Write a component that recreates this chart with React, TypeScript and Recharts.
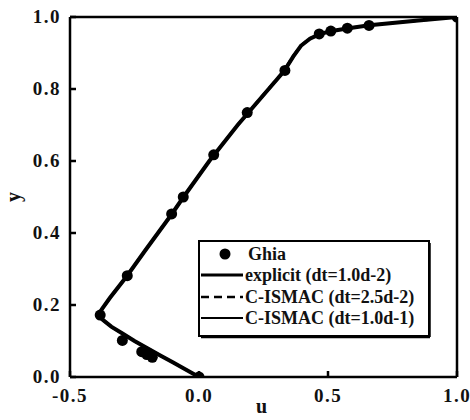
import { ScatterChart, Scatter, XAxis, YAxis, Legend, Label } from "recharts";

// Ghia et al. reference points (u along vertical centreline)
const ghiaY = [1.0, 0.9766, 0.9688, 0.9609, 0.9531, 0.8516, 0.7344, 0.6172, 0.5, 0.4531, 0.2813, 0.1719, 0.1016, 0.0703, 0.0625, 0.0547, 0.0];
const ghiaU = [1.0, 0.659, 0.575, 0.511, 0.466, 0.333, 0.187, 0.057, -0.061, -0.106, -0.278, -0.383, -0.297, -0.222, -0.202, -0.181, 0.0];

// computed profiles
const profileY = [0, 0.02, 0.04, 0.06, 0.08, 0.1, 0.12, 0.14, 0.16, 0.175, 0.19, 0.22, 0.28, 0.35, 0.45, 0.5, 0.6, 0.7, 0.8, 0.85, 0.89, 0.92, 0.94, 0.953, 0.961, 0.969, 0.977, 0.99, 1.0];
const explicitU = [0, -0.05, -0.1, -0.15, -0.2, -0.25, -0.295, -0.34, -0.375, -0.388, -0.375, -0.345, -0.28, -0.21, -0.108, -0.06, 0.04, 0.15, 0.27, 0.33, 0.365, 0.395, 0.43, 0.47, 0.515, 0.58, 0.66, 0.85, 1.0];
const ismac25U = [0, -0.05, -0.1, -0.152, -0.202, -0.252, -0.297, -0.342, -0.377, -0.389, -0.376, -0.346, -0.281, -0.211, -0.109, -0.061, 0.039, 0.149, 0.268, 0.328, 0.363, 0.393, 0.428, 0.468, 0.513, 0.578, 0.658, 0.85, 1.0];
const ismac10U = [0, -0.049, -0.098, -0.148, -0.198, -0.248, -0.293, -0.338, -0.373, -0.386, -0.373, -0.343, -0.278, -0.208, -0.106, -0.058, 0.042, 0.152, 0.272, 0.332, 0.367, 0.397, 0.432, 0.472, 0.517, 0.582, 0.662, 0.85, 1.0];

const xTicks = [-0.5, 0, 0.5, 1.0];
const yTicks = [0, 0.2, 0.4, 0.6, 0.8, 1.0];

const legendLabels = ["Ghia", "explicit (dt=1.0d-2)", "C-ISMAC (dt=2.5d-2)", "C-ISMAC (dt=1.0d-1)"];

const serif = "Liberation Serif";
const ink = "#000";

const ghiaData = ghiaY.map((y, i) => ({ u: ghiaU[i], y }));
const toPoints = (us: number[]) => profileY.map((y, i) => ({ u: us[i], y }));

const axisStyle = { stroke: ink, strokeWidth: 2.5 };

const Dot = (p: any) => <circle cx={p.cx} cy={p.cy} r={5.5} fill={ink} />;
const NoDot = () => <g />;

const BottomTick = (p: any) => (
  <text
    x={p.x}
    y={p.y + 13}
    textAnchor="middle"
    fontFamily={serif}
    fontSize={19}
    fontWeight="bold"
    letterSpacing={1.5}
    fill="#111"
  >
    {Number(p.payload.value).toFixed(1)}
  </text>
);

const LeftTick = (p: any) => (
  <text
    x={p.x}
    y={p.y + 6}
    textAnchor="end"
    fontFamily={serif}
    fontSize={19}
    fontWeight="bold"
    letterSpacing={1.5}
    fill="#111"
  >
    {Number(p.payload.value).toFixed(1)}
  </text>
);

function LegendBox() {
  const rowY = [14, 35, 57, 78];
  return (
    <svg width={234} height={100} style={{ display: "block" }}>
      <rect x={1} y={1} width={230} height={95} fill="#fff" stroke={ink} strokeWidth={2} />
      <line x1={3} y1={97} x2={232} y2={97} stroke={ink} strokeWidth={2.5} />
      <line x1={232} y1={3} x2={232} y2={97} stroke={ink} strokeWidth={1.5} />
      <circle cx={27} cy={rowY[0]} r={5.5} fill={ink} />
      <line x1={3} y1={rowY[1]} x2={45} y2={rowY[1]} stroke={ink} strokeWidth={3} />
      <line x1={3} y1={rowY[2]} x2={45} y2={rowY[2]} stroke={ink} strokeWidth={2.5} strokeDasharray="8 5" />
      <line x1={3} y1={rowY[3]} x2={45} y2={rowY[3]} stroke={ink} strokeWidth={2} />
      {legendLabels.map((t, i) => (
        <text
          key={t}
          x={i === 0 ? 50 : 47}
          y={rowY[i] + 6}
          fontFamily={serif}
          fontSize={18}
          fontWeight="bold"
          fill="#111"
        >
          {t}
        </text>
      ))}
    </svg>
  );
}

export default function App() {
  return (
    <div style={{ position: "absolute", left: 0, top: 0, background: "#fff" }}>
      <ScatterChart width={470} height={420} margin={{ top: 16, right: 12, bottom: 0, left: 0 }}>
        <XAxis
          type="number"
          dataKey="u"
          domain={[-0.5, 1]}
          ticks={xTicks}
          allowDataOverflow
          tick={BottomTick}
          tickSize={-6}
          tickMargin={18}
          height={43}
          axisLine={axisStyle}
          tickLine={axisStyle}
        >
          <Label
            content={(props: any) => {
              const vb = props.viewBox;
              return (
                <text
                  x={vb.x + vb.width / 2 - 2}
                  y={413}
                  textAnchor="middle"
                  fontFamily={serif}
                  fontSize={20}
                  fontWeight="bold"
                  fill="#111"
                >
                  u
                </text>
              );
            }}
          />
        </XAxis>
        <XAxis
          xAxisId="top"
          orientation="top"
          type="number"
          domain={[-0.5, 1]}
          ticks={xTicks}
          tick={false}
          tickSize={-6}
          height={1}
          axisLine={axisStyle}
          tickLine={axisStyle}
        />
        <YAxis
          type="number"
          dataKey="y"
          domain={[0, 1]}
          ticks={yTicks}
          allowDataOverflow
          tick={LeftTick}
          tickSize={-6}
          tickMargin={15}
          width={70}
          axisLine={axisStyle}
          tickLine={axisStyle}
        >
          <Label
            content={(props: any) => {
              const vb = props.viewBox;
              const cx = 13;
              const cy = vb.y + vb.height / 2;
              return (
                <text
                  x={cx}
                  y={cy}
                  transform={`rotate(-90 ${cx} ${cy})`}
                  textAnchor="middle"
                  dominantBaseline="central"
                  fontFamily={serif}
                  fontSize={20}
                  fontWeight="bold"
                  fill="#111"
                >
                  y
                </text>
              );
            }}
          />
        </YAxis>
        <YAxis
          yAxisId="right"
          orientation="right"
          type="number"
          domain={[0, 1]}
          ticks={yTicks}
          tick={false}
          tickSize={-6}
          width={1}
          axisLine={axisStyle}
          tickLine={axisStyle}
        />
        <Scatter
          name={legendLabels[1]}
          data={toPoints(explicitU)}
          line={{ stroke: ink, strokeWidth: 4 }}
          shape={NoDot}
          isAnimationActive={false}
        />
        <Scatter
          name={legendLabels[2]}
          data={toPoints(ismac25U)}
          line={{ stroke: ink, strokeWidth: 2.5, strokeDasharray: "8 5" }}
          shape={NoDot}
          isAnimationActive={false}
        />
        <Scatter
          name={legendLabels[3]}
          data={toPoints(ismac10U)}
          line={{ stroke: ink, strokeWidth: 2 }}
          shape={NoDot}
          isAnimationActive={false}
        />
        <Scatter name={legendLabels[0]} data={ghiaData} shape={Dot} isAnimationActive={false} />
        <Legend
          layout="vertical"
          align="center"
          verticalAlign="middle"
          wrapperStyle={{ left: 198, top: 240, width: 234, height: 100 }}
          content={() => <LegendBox />}
        />
      </ScatterChart>
    </div>
  );
}
